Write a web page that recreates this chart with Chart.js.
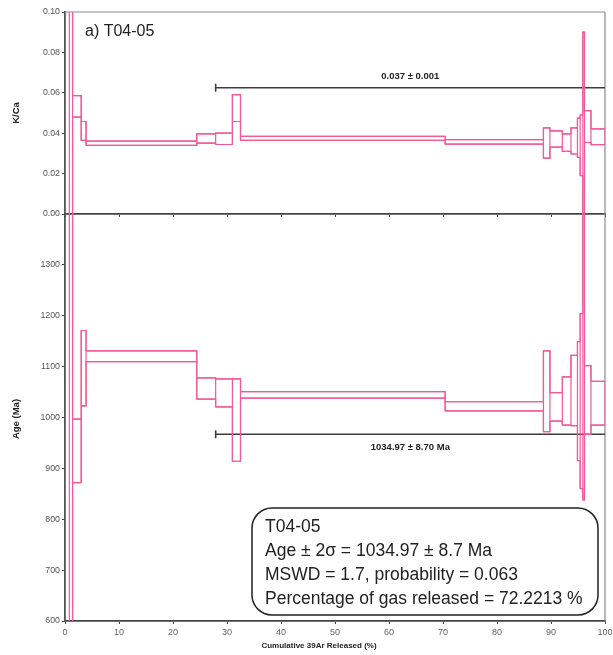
<!DOCTYPE html>
<html>
<head>
<meta charset="utf-8">
<script src="https://cdn.jsdelivr.net/npm/chart.js"></script>
<style>
html, body { margin: 0; padding: 0; background: #fff; }
#wrap { position: relative; width: 613px; height: 655px; }
#wrap canvas { position: absolute; left: 0; top: 0; }
</style>
</head>
<body>
<div id="wrap">
<canvas id="kcaChart" width="613" height="655"></canvas>
<canvas id="ageChart" width="613" height="655"></canvas>
</div>
<script>
// heating steps: cumulative 39Ar edges (%) and 2-sigma envelopes
const stepEdges = [0.8, 1.4, 3.0, 3.9, 24.4, 27.9, 31.0, 32.5, 70.4, 88.6, 89.8, 92.1, 93.7, 94.9, 95.4, 95.9, 96.2, 97.4, 100];
const kcaLow  = [-0.05, 0.048, 0.0364, 0.034, 0.0351, 0.0344, 0.0458, 0.0364, 0.0346, 0.0277, 0.0331, 0.031, 0.0297, 0.028, 0.019, -0.02, 0.0354, 0.0343];
const kcaHigh = [0.2, 0.0586, 0.0458, 0.0361, 0.0397, 0.040, 0.0591, 0.0384, 0.0368, 0.0426, 0.0412, 0.0397, 0.0426, 0.0475, 0.049, 0.090, 0.0512, 0.0421];
const ageLow  = [400, 872, 1023, 1110, 1036, 1021, 914, 1038, 1013, 972, 993, 985, 984, 915, 860, 838, 967, 985];
const ageHigh = [1600, 997, 1171, 1131, 1078, 1076, 1076, 1051, 1031, 1131, 1049, 1080, 1122, 1149, 1204, 1600, 1102, 1071];

// plateau markers
const plateauFrom = 27.9;
const plateauTo = 100;
const kcaPlateauLevel = 0.0625;
const agePlateauLevel = 967;
const kcaPlateauText = '0.037 ± 0.001';
const agePlateauText = '1034.97 ± 8.70 Ma';

const sampleLabel = 'a) T04-05';
const legendLines = [
  'T04-05',
  'Age ± 2σ = 1034.97 ± 8.7 Ma',
  'MSWD = 1.7, probability = 0.063',
  'Percentage of gas released = 72.2213 %'
];

const PINK = '#ef5b98';
const DARK = '#3c3c3c';
const FONT = 'Arial, "Liberation Sans", sans-serif';

// closed rectangle per step, separated by gaps
function boxes(low, high) {
  const pts = [];
  for (let i = 0; i < low.length; i++) {
    const x0 = stepEdges[i], x1 = stepEdges[i + 1];
    pts.push({x: x0, y: low[i]}, {x: x0, y: high[i]}, {x: x1, y: high[i]},
             {x: x1, y: low[i]}, {x: x0, y: low[i]}, {x: x1, y: null});
  }
  return pts;
}

// stepped outline joining neighbouring steps
function envelope(vals) {
  const pts = vals.map((v, i) => ({x: stepEdges[i], y: v}));
  pts.push({x: stepEdges[vals.length], y: vals[vals.length - 1]});
  return pts;
}

function stepSets(low, high, level) {
  const line = {borderColor: PINK, borderWidth: 1.2, pointRadius: 0, fill: false, tension: 0};
  return [
    Object.assign({data: boxes(low, high), spanGaps: false}, line),
    Object.assign({data: envelope(high), stepped: true}, line),
    Object.assign({data: envelope(low), stepped: true}, line),
    {
      data: [{x: plateauFrom, y: level}, {x: plateauTo, y: level}],
      borderColor: DARK, borderWidth: 1.6,
      pointStyle: 'line', pointRotation: 90,
      pointRadius: c => c.dataIndex === 0 ? 4 : 0,
      pointBorderColor: DARK, pointBorderWidth: 1.6
    }
  ];
}

function xScale(showLabels) {
  return {
    type: 'linear', min: 0, max: 100,
    ticks: {stepSize: 10, display: showLabels, color: '#666', font: {family: FONT, size: 9}, padding: 3, maxRotation: 0},
    grid: {drawOnChartArea: false, drawTicks: true, tickLength: 3, tickColor: '#444'},
    border: {color: '#444', width: 1.8},
    afterFit: s => {
      s.height = showLabels ? 34 : 441;
      s.paddingLeft = 0;
      s.paddingRight = 0;
    }
  };
}

function yScale(min, max, step, fmt) {
  return {
    type: 'linear', min: min, max: max,
    ticks: {stepSize: step, color: '#555', font: {family: FONT, size: 8.8}, padding: 2, callback: fmt},
    grid: {drawOnChartArea: false, drawTicks: true, tickLength: 3, tickColor: '#444'},
    border: {color: '#555', width: 1.8},
    afterFit: s => { s.width = 65; }
  };
}

function frame(chart, withTop) {
  const {ctx, chartArea: a} = chart;
  ctx.save();
  ctx.strokeStyle = '#8a8a8a';
  ctx.lineWidth = 1.2;
  ctx.beginPath();
  if (withTop) { ctx.moveTo(a.left, a.top); ctx.lineTo(a.right, a.top); }
  ctx.moveTo(a.right, a.top);
  ctx.lineTo(a.right, a.bottom);
  ctx.stroke();
  ctx.restore();
}

function yTitle(ctx, text, x, y) {
  ctx.save();
  ctx.translate(x, y);
  ctx.rotate(-Math.PI / 2);
  ctx.font = 'bold 9.5px ' + FONT;
  ctx.fillStyle = '#222';
  ctx.textAlign = 'center';
  ctx.textBaseline = 'middle';
  ctx.fillText(text, 0, 0);
  ctx.restore();
}

function plateauLabel(chart, text, level, offset) {
  const {ctx, scales} = chart;
  const cx = (scales.x.getPixelForValue(plateauFrom) + scales.x.getPixelForValue(plateauTo)) / 2;
  ctx.save();
  ctx.font = 'bold 9.5px ' + FONT;
  ctx.fillStyle = '#222';
  ctx.textAlign = 'center';
  ctx.textBaseline = 'middle';
  ctx.fillText(text, cx, scales.y.getPixelForValue(level) + offset);
  ctx.restore();
}

const kcaDecor = {
  id: 'kcaDecor',
  beforeDatasetsDraw(chart) { frame(chart, true); },
  afterDraw(chart) {
    const ctx = chart.ctx;
    ctx.save();
    ctx.font = '16px ' + FONT;
    ctx.fillStyle = '#222';
    ctx.fillText(sampleLabel, 85, 36);
    ctx.restore();
    plateauLabel(chart, kcaPlateauText, kcaPlateauLevel, -11);
    yTitle(ctx, 'K/Ca', 16, 113);
  }
};

const ageDecor = {
  id: 'ageDecor',
  beforeDatasetsDraw(chart) { frame(chart, false); },
  afterDraw(chart) {
    const ctx = chart.ctx;
    plateauLabel(chart, agePlateauText, agePlateauLevel, 13);
    yTitle(ctx, 'Age (Ma)', 16, 419);

    ctx.save();
    ctx.font = 'bold 8px ' + FONT;
    ctx.fillStyle = '#222';
    ctx.textAlign = 'center';
    ctx.textBaseline = 'middle';
    ctx.fillText('Cumulative 39Ar Released (%)', 319, 646);

    // summary box
    ctx.beginPath();
    ctx.roundRect(252, 508, 346, 107, 20);
    ctx.fillStyle = '#fff';
    ctx.fill();
    ctx.lineWidth = 1.5;
    ctx.strokeStyle = '#222';
    ctx.stroke();
    ctx.font = '17.5px ' + FONT;
    ctx.fillStyle = '#222';
    ctx.textAlign = 'left';
    ctx.textBaseline = 'alphabetic';
    legendLines.forEach((t, i) => ctx.fillText(t, 265, 532 + i * 24));
    ctx.restore();
  }
};

const common = {
  responsive: false,
  animation: false,
  plugins: {legend: {display: false}, tooltip: {enabled: false}}
};

new Chart(document.getElementById('kcaChart'), {
  type: 'line',
  data: {datasets: stepSets(kcaLow, kcaHigh, kcaPlateauLevel)},
  options: Object.assign({}, common, {
    layout: {padding: {top: 12, right: 8, left: 0, bottom: 0}},
    scales: {
      x: xScale(false),
      y: yScale(0, 0.1, 0.02, v => v.toFixed(2))
    }
  }),
  plugins: [kcaDecor]
});

new Chart(document.getElementById('ageChart'), {
  type: 'line',
  data: {datasets: stepSets(ageLow, ageHigh, agePlateauLevel)},
  options: Object.assign({}, common, {
    layout: {padding: {top: 214, right: 8, left: 0, bottom: 0}},
    scales: {
      x: xScale(true),
      y: yScale(600, 1400, 100, v => v === 1400 ? '' : v)
    }
  }),
  plugins: [ageDecor]
});
</script>
</body>
</html>
